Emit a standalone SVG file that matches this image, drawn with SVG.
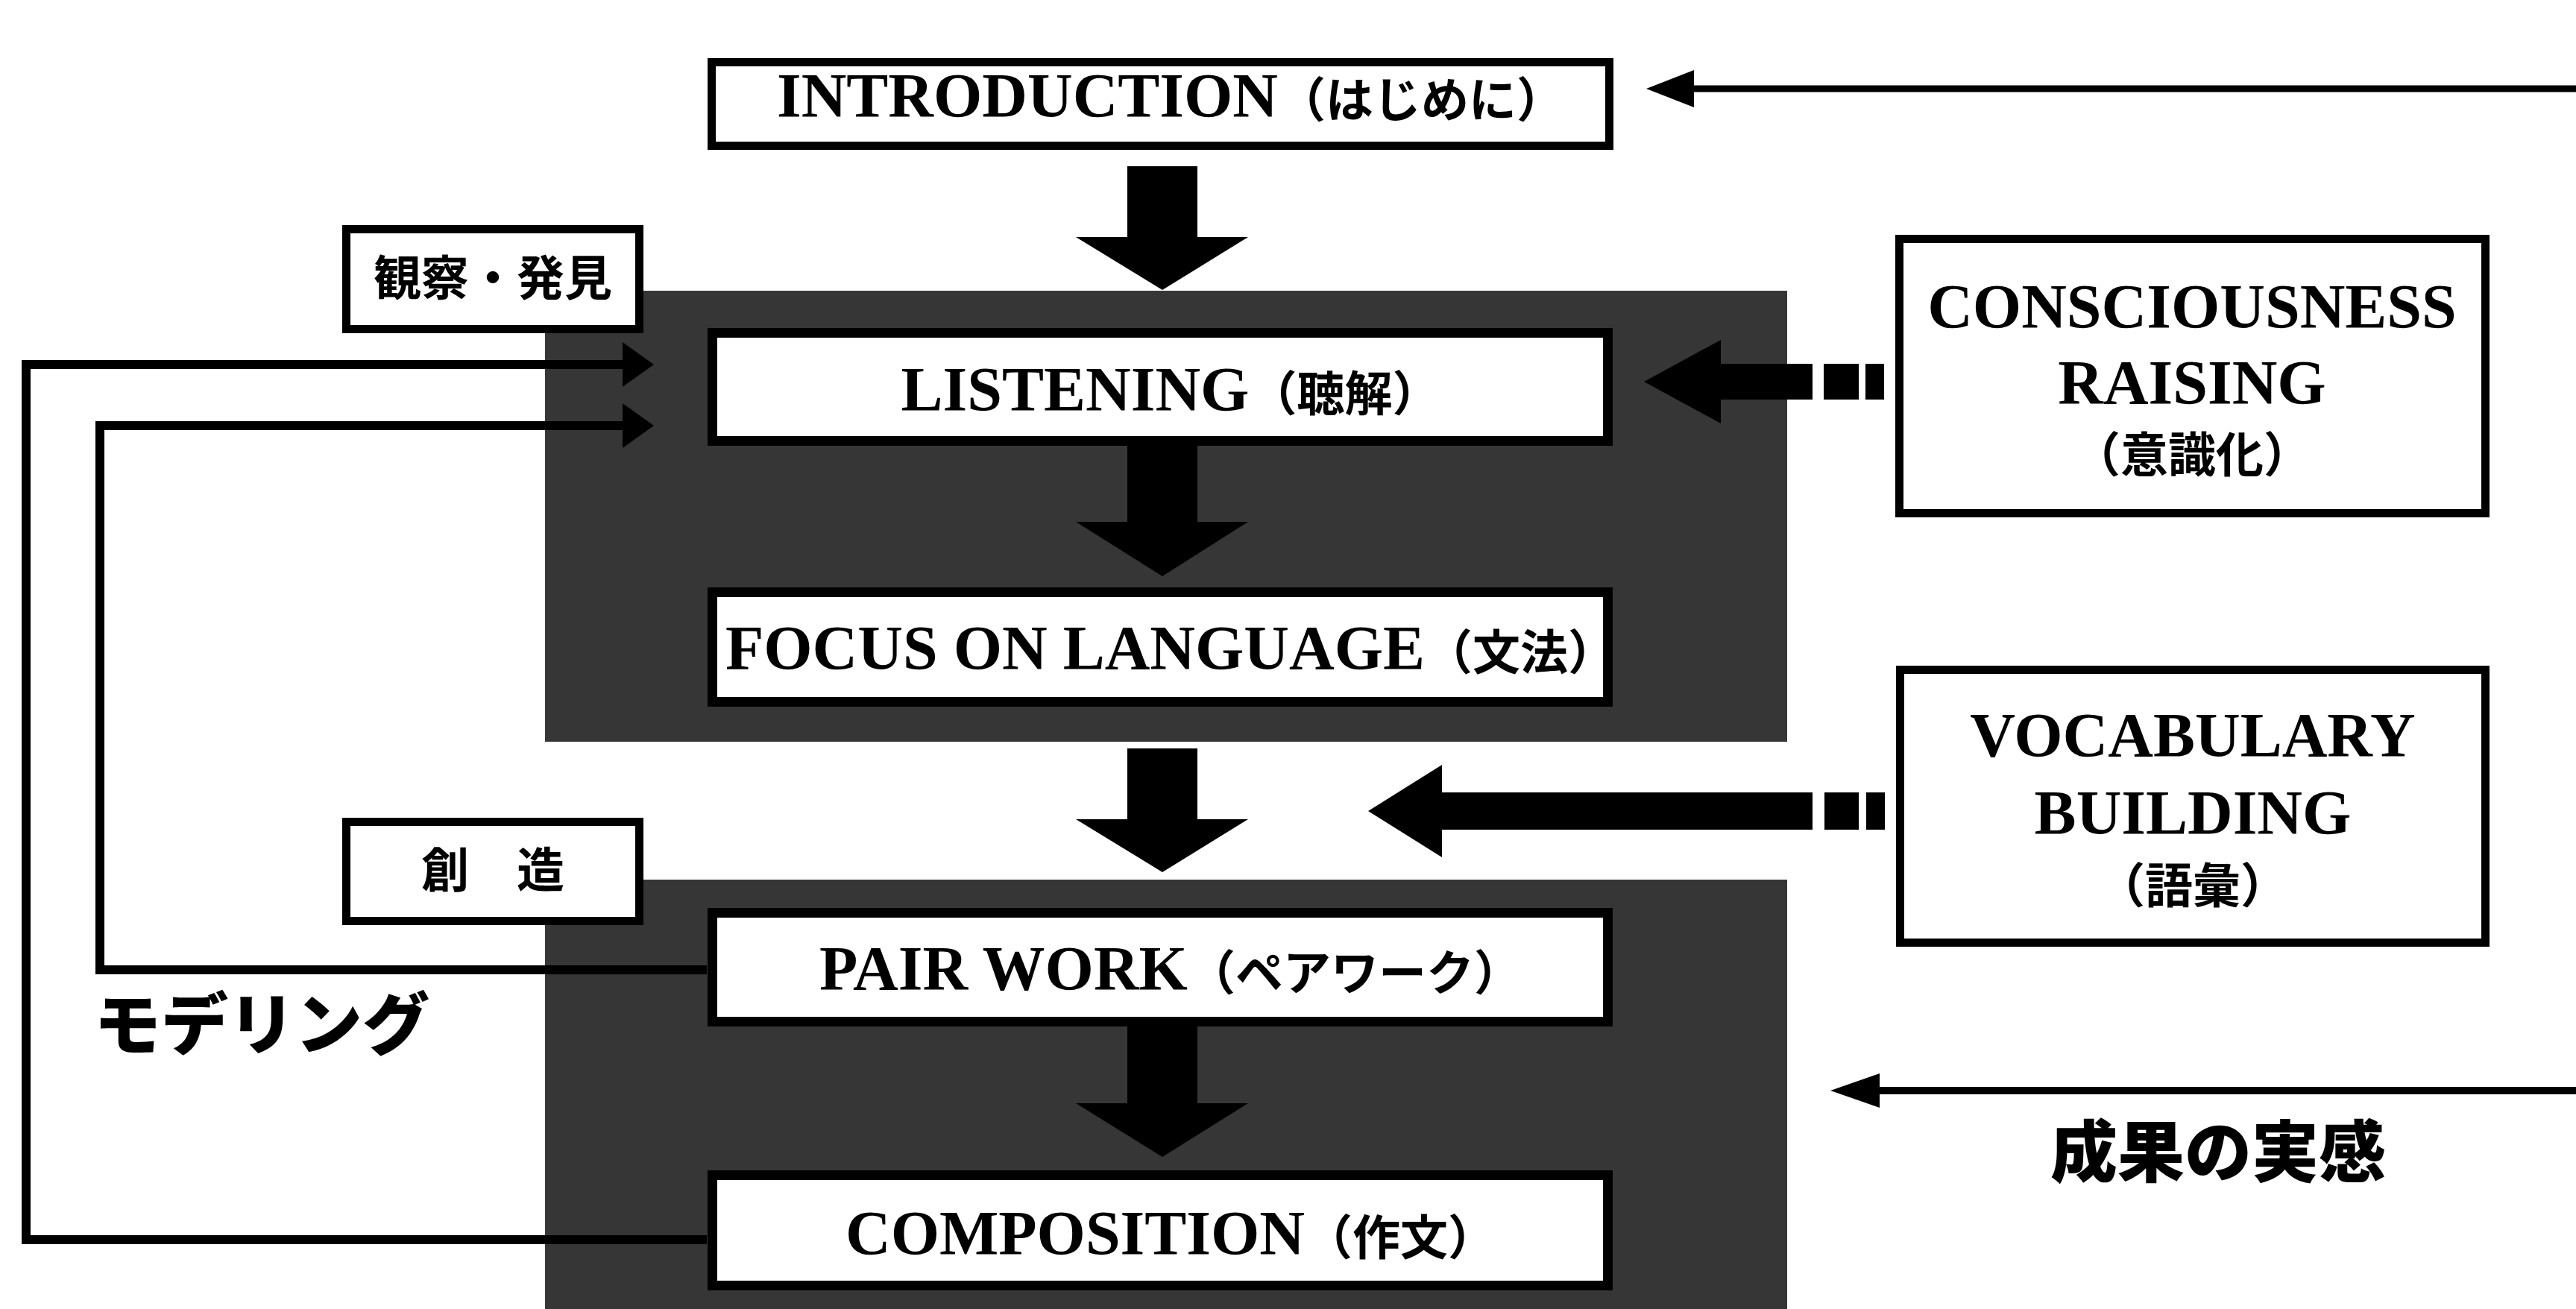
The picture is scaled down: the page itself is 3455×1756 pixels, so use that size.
<svg xmlns="http://www.w3.org/2000/svg" width="3455" height="1756" viewBox="0 0 3455 1756">
<style>
.bg{fill:#ffffff}
.gray{fill:#363636}
.obox{fill:#ffffff;stroke:#000;stroke-width:11}
.ibox{fill:#ffffff;stroke:#000;stroke-width:13}
.blk{fill:#000}
.line{fill:none;stroke:#000;stroke-width:12;stroke-linejoin:miter;stroke-linecap:butt}
.thin{fill:none;stroke:#000;stroke-width:9}
.en{font-family:"Liberation Serif","Times New Roman",serif;font-weight:700;font-size:84px;fill:#000}
.jp{font-family:"Noto Sans CJK JP",sans-serif;font-weight:700;font-size:64px}
.jpl{font-family:"Noto Sans CJK JP",sans-serif;font-weight:700;font-size:64px;fill:#000}
.big{font-family:"Noto Sans CJK JP",sans-serif;font-weight:900;font-size:90px;fill:#000}
.mid{text-anchor:middle}
</style>
<rect class="bg" x="0" y="0" width="3455" height="1756"/>

<g id="section-observe">
<rect class="gray" x="731" y="390" width="1666" height="605"/>
</g>
<g id="section-create">
<rect class="gray" x="731" y="1180" width="1666" height="576"/>
</g>

<g id="connectors">
<!-- feedback loops (modeling) -->
<polyline class="line" points="948,1663 35,1663 35,489 840,489"/>
<polygon class="blk" points="835,459 835,519 877,489"/>
<polyline class="line" points="948,1301 134,1301 134,571 840,571"/>
<polygon class="blk" points="835,541 835,601 877,571"/>
<!-- main flow arrows -->
<polygon class="blk" points="1512,223 1606,223 1606,318 1674,318 1559,389 1443,318 1512,318"/>
<polygon class="blk" points="1512,598 1606,598 1606,700 1674,700 1559,773 1443,700 1512,700"/>
<polygon class="blk" points="1512,1004 1606,1004 1606,1099 1674,1099 1559,1170 1443,1099 1512,1099"/>
<polygon class="blk" points="1512,1377 1606,1377 1606,1480 1674,1480 1559,1552 1443,1480 1512,1480"/>
<!-- top return arrow -->
<line class="thin" x1="2266" y1="119" x2="3455" y2="119"/>
<polygon class="blk" points="2208,119 2272,94 2272,144"/>
<!-- consciousness raising arrow -->
<polygon class="blk" points="2205,512 2308,456 2308,488 2431,488 2431,536 2308,536 2308,568"/>
<rect class="blk" x="2446" y="488" width="47" height="48"/>
<rect class="blk" x="2502" y="488" width="25" height="48"/>
<!-- vocabulary arrow -->
<polygon class="blk" points="1835,1088 1934,1026 1934,1063 2431,1063 2431,1113 1934,1113 1934,1150"/>
<rect class="blk" x="2447" y="1063" width="46" height="50"/>
<rect class="blk" x="2503" y="1063" width="25" height="50"/>
<!-- sense of achievement arrow -->
<line class="thin" x1="2515" y1="1463" x2="3455" y2="1463" style="stroke-width:10"/>
<polygon class="blk" points="2455,1463 2521,1440 2521,1486"/>
</g>

<g id="introduction">
<rect class="obox" x="954.5" y="83.5" width="1204" height="112"/>
<text class="en mid" x="1570" y="157">INTRODUCTION<tspan class="jp">（はじめに）</tspan></text>
</g>

<g id="observe-discover">
<rect class="obox" x="464.5" y="307.5" width="393" height="134"/>
<text class="jpl mid" x="661" y="396">観察・発見</text>
</g>

<g id="listening">
<rect class="ibox" x="955.5" y="446.5" width="1201" height="145"/>
<text class="en mid" x="1570" y="551">LISTENING<tspan class="jp">（聴解）</tspan></text>
</g>

<g id="focus-on-language">
<rect class="ibox" x="955.5" y="794.5" width="1201" height="147"/>
<text class="en mid" x="1570" y="898">FOCUS ON LANGUAGE<tspan class="jp">（文法）</tspan></text>
</g>

<g id="create">
<rect class="obox" x="464.5" y="1102.5" width="393" height="133"/>
<text class="jpl mid" x="661" y="1190">創　造</text>
</g>

<g id="pair-work">
<rect class="ibox" x="955.5" y="1224.5" width="1201" height="146"/>
<text class="en mid" x="1570" y="1328">PAIR WORK<tspan class="jp">（ペアワーク）</tspan></text>
</g>

<g id="composition">
<rect class="ibox" x="955.5" y="1576.5" width="1201" height="148"/>
<text class="en mid" x="1570" y="1683">COMPOSITION<tspan class="jp">（作文）</tspan></text>
</g>

<g id="consciousness-raising">
<rect class="obox" x="2547.5" y="320.5" width="786" height="368"/>
<text class="en mid" x="2940" y="440">CONSCIOUSNESS</text>
<text class="en mid" x="2940" y="542">RAISING</text>
<text class="jpl mid" x="2940" y="633">（意識化）</text>
</g>

<g id="vocabulary-building">
<rect class="obox" x="2548.5" y="898.5" width="785" height="366"/>
<text class="en mid" x="2941" y="1015">VOCABULARY</text>
<text class="en mid" x="2941" y="1119">BUILDING</text>
<text class="jpl mid" x="2941" y="1211">（語彙）</text>
</g>

<g id="modeling-label">
<text class="big" x="126" y="1407">モデリング</text>
</g>

<g id="achievement-label">
<text class="big mid" x="2975" y="1578">成果の実感</text>
</g>
</svg>
